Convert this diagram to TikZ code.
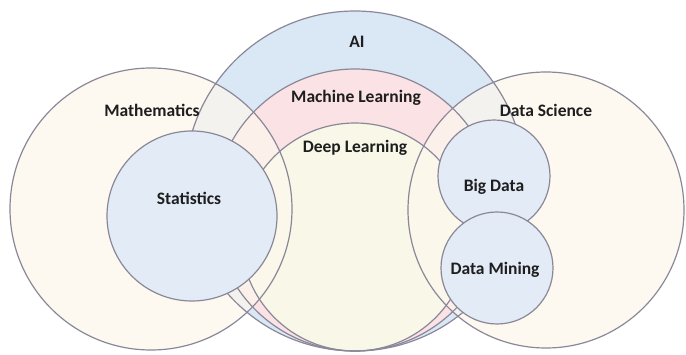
\documentclass[tikz,border=0pt]{standalone}
\usepackage{fontspec}
\setmainfont{Carlito}
\usepackage{tikz}

\definecolor{edgegray}{RGB}{138,136,152}
\definecolor{aiblue}{RGB}{218,231,245}
\definecolor{mlpink}{RGB}{250,226,229}
\definecolor{dlcream}{RGB}{248,247,232}
\definecolor{fieldcream}{RGB}{253,247,236}
\definecolor{subblue}{RGB}{226,235,246}

\tikzset{
  ring/.style={draw=edgegray,line width=1.2pt},
  field/.style={fill=fieldcream,fill opacity=0.75},
  sub/.style={ring,fill=subblue},
  lbl/.style={inner sep=0.75pt,font=\fontsize{17.5}{19}\selectfont\bfseries,text={rgb,255:red,30;green,30;blue,30}}
}

\begin{document}
\begin{tikzpicture}[x=1pt,y=1pt,yscale=-1,xscale=1]
	\useasboundingbox (0,0) rectangle (686,355);
	\fill [white] (0,0) rectangle (686,355);

	%Fills: AI, ML, DL, then Mathematics and Data Science over them
	\fill [aiblue] (355,181) circle [radius=170];
	\fill [mlpink] (355,210) circle [radius=141];
	\fill [dlcream] (355,237) circle [radius=114];
	\fill [field] (151,209) circle [radius=141];
	\fill [field] (546,210) circle [radius=138];

	%Outlines
	\draw [ring] (355,181) circle [radius=170];
	\draw [ring] (355,210) circle [radius=141];
	\draw [ring] (355,237) circle [radius=114];
	\draw [ring] (151,209) circle [radius=141];
	\draw [ring] (546,210) circle [radius=138];

	%Shape: Circle [Statistics, Big Data, Data Mining]
	\draw [sub] (192,216) circle [radius=85];
	\draw [sub] (494,176) circle [radius=56];
	\draw [sub] (497,268) circle [radius=56];

	% Text Node
	\node [lbl] (ai) at (357,42) {AI};
	% Text Node
	\node [lbl] (ml) at (356,98) {Machine Learning};
	% Text Node
	\node [lbl] (dl) at (355,148) {Deep Learning};
	% Text Node
	\node [lbl] (math) at (152,110) {Mathematics};
	% Text Node
	\node [lbl] (stats) at (189,198) {Statistics};
	% Text Node
	\node [lbl] (ds) at (546,110) {Data Science};
	% Text Node
	\node [lbl] (bigdata) at (494,187) {Big Data};
	% Text Node
	\node [lbl] (mining) at (495,270) {Data Mining};
\end{tikzpicture}
\end{document}
